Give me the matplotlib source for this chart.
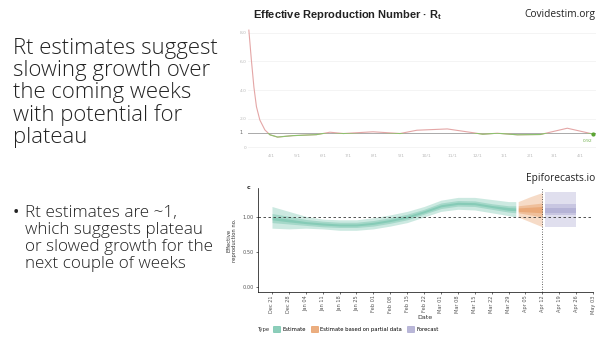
import matplotlib

matplotlib.use("Agg")
import matplotlib.dates as mdates
import matplotlib.pyplot as plt
import numpy as np
from matplotlib.patches import Patch, Rectangle

# ---- covidestim Rt curve (top) ----
rt_dates = np.array(
    [
        "2020-03-05", "2020-03-08", "2020-03-11", "2020-03-14", "2020-03-18",
        "2020-03-24", "2020-03-30", "2020-04-08", "2020-04-26", "2020-05-24",
        "2020-06-09", "2020-06-25", "2020-07-30", "2020-08-31", "2020-09-20",
        "2020-10-26", "2020-11-26", "2020-12-07", "2020-12-24", "2021-01-17",
        "2021-02-13", "2021-03-17", "2021-04-16",
    ],
    dtype="datetime64[D]",
)
rt_values = [
    8.2, 6.1, 4.2, 2.83, 1.9, 1.2, 0.86, 0.7, 0.8, 0.87,
    1.04, 0.95, 1.07, 0.95, 1.18, 1.27, 1.0, 0.9, 0.97, 0.86,
    0.88, 1.32, 0.92,
]
rt_month_ticks = np.arange("2020-04", "2021-05", dtype="datetime64[M]").astype("datetime64[D]")

# ---- epiforecasts Rt estimate (bottom) ----
est_dates = np.array(
    [
        "2020-12-21", "2020-12-28", "2021-01-04", "2021-01-11", "2021-01-18",
        "2021-01-25", "2021-02-01", "2021-02-08", "2021-02-15", "2021-02-22",
        "2021-03-01", "2021-03-08", "2021-03-15", "2021-03-22", "2021-03-29",
        "2021-04-01",
    ],
    dtype="datetime64[D]",
)
est_lo90 = [0.84, 0.83, 0.84, 0.83, 0.81, 0.81, 0.83, 0.87, 0.92, 1.0, 1.08, 1.11, 1.10, 1.06, 1.02, 1.0]
est_hi90 = [1.15, 1.08, 1.01, 0.97, 0.96, 0.96, 0.99, 1.03, 1.08, 1.15, 1.24, 1.28, 1.28, 1.25, 1.22, 1.22]
est_lo50 = [0.92, 0.90, 0.88, 0.86, 0.85, 0.85, 0.87, 0.91, 0.96, 1.04, 1.12, 1.155, 1.15, 1.11, 1.07, 1.06]
est_hi50 = [1.05, 1.01, 0.965, 0.94, 0.925, 0.925, 0.95, 0.99, 1.04, 1.11, 1.20, 1.235, 1.23, 1.19, 1.16, 1.16]
est_lo20 = [0.96, 0.93, 0.905, 0.885, 0.872, 0.872, 0.895, 0.935, 0.985, 1.06, 1.145, 1.18, 1.175, 1.135, 1.095, 1.09]
est_hi20 = [1.00, 0.97, 0.935, 0.915, 0.90, 0.90, 0.925, 0.965, 1.015, 1.09, 1.175, 1.21, 1.205, 1.165, 1.135, 1.13]

part_dates = np.array(["2021-04-02", "2021-04-07", "2021-04-12"], dtype="datetime64[D]")
part_lo90 = [1.0, 0.93, 0.86]
part_hi90 = [1.22, 1.29, 1.35]
part_lo50 = [1.06, 1.03, 1.0]
part_hi50 = [1.16, 1.18, 1.20]
part_lo20 = [1.08, 1.07, 1.06]
part_hi20 = [1.13, 1.14, 1.15]

fc_dates = np.array(["2021-04-13", "2021-04-26"], dtype="datetime64[D]")
fc_lo90 = [0.86, 0.86]
fc_hi90 = [1.35, 1.35]
fc_lo50 = [1.03, 1.03]
fc_hi50 = [1.19, 1.19]
fc_lo20 = [1.06, 1.06]
fc_hi20 = [1.13, 1.13]

week_ticks = np.arange(
    np.datetime64("2020-12-21"), np.datetime64("2021-05-04"), np.timedelta64(7, "D")
)

TYPE_COLORS = {
    "Estimate": "#1b9e77",
    "Estimate based on partial data": "#d95f02",
    "Forecast": "#7570b3",
}

plt.rcParams["mathtext.fontset"] = "custom"
plt.rcParams["mathtext.bf"] = "Liberation Sans:bold"
plt.rcParams["mathtext.rm"] = "Liberation Sans"

fig = plt.figure(figsize=(6, 3.38), dpi=100)
W, H = 600.0, 338.0


def fig_box(x0, y0, x1, y1):
    # pixel box (top-left origin) -> figure fraction rect
    return [x0 / W, 1 - y1 / H, (x1 - x0) / W, (y1 - y0) / H]


def as_pydates(arr):
    return arr.astype("datetime64[s]").astype(object)


# ---- slide text ----
slide_font = ["Open Sans", "DejaVu Sans"]
fig.text(
    13 / W, 1 - 38 / H,
    "Rt estimates suggest\nslowing growth over\nthe coming weeks\nwith potential for\nplateau",
    fontsize=15.9, family=slide_font, weight="light", color="#222222",
    va="top", ha="left", linespacing=1.06,
)
fig.text(13 / W, 1 - 205 / H, "•", fontsize=12.3, family=slide_font, color="#222222", va="top")
fig.text(
    25 / W, 1 - 205 / H,
    "Rt estimates are ~1,\nwhich suggests plateau\nor slowed growth for the\nnext couple of weeks",
    fontsize=12.3, family=slide_font, weight="light", color="#222222",
    va="top", ha="left", linespacing=1.09,
)

# ---- top chart ----
ax1 = fig.add_axes(fig_box(248, 28.7, 596, 149.9))
rt_x = mdates.date2num(as_pydates(rt_dates))
ax1.plot(rt_x, rt_values, color="#e4a6a6", lw=0.8, zorder=3)
green = ax1.plot(rt_x, rt_values, color="#8cc26e", lw=0.8, zorder=4)[0]
clip = Rectangle((rt_x[0] - 50, -5), 1000, 6, transform=ax1.transData, visible=False)
ax1.add_patch(clip)
green.set_clip_path(clip)
ax1.axhline(1, color="#aaaaaa", lw=0.7, zorder=2)
ax1.scatter([rt_x[-1]], [rt_values[-1]], s=4, color="#5aa532", zorder=5)
ax1.annotate(
    f"{rt_values[-1]:.2f}", (rt_x[-1], rt_values[-1]), xytext=(0, -4),
    textcoords="offset points", ha="right", va="top", fontsize=3.2, color="#6aad44",
)
ax1.set_ylim(-0.2, 8.3)
ax1.set_xlim(mdates.datestr2num("2020-03-04"), mdates.datestr2num("2021-04-20"))
ax1.set_yticks([0, 2, 4, 6, 8])
ax1.set_yticklabels(["0", "2.0", "4.0", "6.0", "8.0"])
ax1.grid(axis="y", color="#f3f3f3", lw=0.6)
ax1.set_axisbelow(True)
ax1.set_xticks(mdates.date2num(as_pydates(rt_month_ticks)))
ax1.xaxis.set_major_formatter(
    matplotlib.ticker.FuncFormatter(lambda v, _: f"{mdates.num2date(v).month}/1")
)
ax1.tick_params(length=0, labelsize=3.2, labelcolor="#bbbbbb", pad=3)
ax1.tick_params(axis="y", pad=1)
for side in ax1.spines.values():
    side.set_visible(False)
fig.text(239 / W, 1 - 133 / H, "1", fontsize=3.6, color="#666666", va="center", ha="left")
fig.text(
    253 / W, 1 - 15 / H, r"Effective Reproduction Number · $\mathbf{R_t}$",
    fontsize=8, family="Liberation Sans", weight="bold", color="#222222", va="center",
)
fig.text(595 / W, 1 - 15 / H, "Covidestim.org", fontsize=7.3, family="Open Sans",
         color="#222222", va="center", ha="right")

# ---- bottom chart ----
ax2 = fig.add_axes(fig_box(257.5, 188, 593, 292))


def draw_bands(ax, dates, bands, color):
    x = as_pydates(dates)
    for lo, hi in bands:
        ax.fill_between(x, lo, hi, color=color, alpha=0.22, lw=0)


draw_bands(ax2, est_dates, [(est_lo90, est_hi90), (est_lo50, est_hi50), (est_lo20, est_hi20)],
           TYPE_COLORS["Estimate"])
draw_bands(ax2, part_dates, [(part_lo90, part_hi90), (part_lo50, part_hi50), (part_lo20, part_hi20)],
           TYPE_COLORS["Estimate based on partial data"])
draw_bands(ax2, fc_dates, [(fc_lo90, fc_hi90), (fc_lo50, fc_hi50), (fc_lo20, fc_hi20)],
           TYPE_COLORS["Forecast"])
ax2.axhline(1.0, color="#333333", lw=0.6, ls=(0, (3, 3)))
ax2.axvline(as_pydates(np.datetime64("2021-04-12")), color="#333333", lw=0.6, ls=(0, (1, 2)))
ax2.set_xlim(mdates.datestr2num("2020-12-15"), mdates.datestr2num("2021-05-03"))
ax2.set_ylim(-0.071, 1.414)
ax2.set_yticks([0.0, 0.5, 1.0])
ax2.set_yticklabels(["0.00", "0.50", "1.00"])
ax2.set_xticks(as_pydates(week_ticks))
ax2.xaxis.set_major_formatter(mdates.DateFormatter("%b %d"))
ax2.tick_params(axis="x", rotation=90, labelsize=3.6, labelcolor="#555555", length=1.5, width=0.4, pad=1)
ax2.tick_params(axis="y", labelsize=3.6, labelcolor="#555555", length=1.5, width=0.4, pad=1)
for s in ("top", "right"):
    ax2.spines[s].set_visible(False)
for s in ("left", "bottom"):
    ax2.spines[s].set_linewidth(0.5)
ax2.set_xlabel("Date", fontsize=4.6, color="#333333", labelpad=1)
ax2.set_ylabel("Effective\nreproduction no.", fontsize=3.8, color="#333333", labelpad=4)
fig.text(247 / W, 1 - 188 / H, "c", fontsize=4.5, weight="bold", color="#333333", va="center")
fig.text(595 / W, 1 - 178 / H, "Epiforecasts.io", fontsize=7.3, family="Open Sans",
         color="#222222", va="center", ha="right")

handles = [
    Patch(facecolor=c, edgecolor=c, alpha=0.5, lw=0.5, label=name)
    for name, c in TYPE_COLORS.items()
]
fig.text(258 / W, 1 - 329 / H, "Type", fontsize=3.8, color="#333333", va="center")
fig.legend(
    handles=handles, loc="center left", bbox_to_anchor=(270 / W, 1 - 329 / H),
    ncol=3, frameon=False, fontsize=3.8, handlelength=1.3, handleheight=1.3,
    handletextpad=0.5, columnspacing=1.0, borderpad=0,
)

fig.savefig("out.png", dpi=100)
